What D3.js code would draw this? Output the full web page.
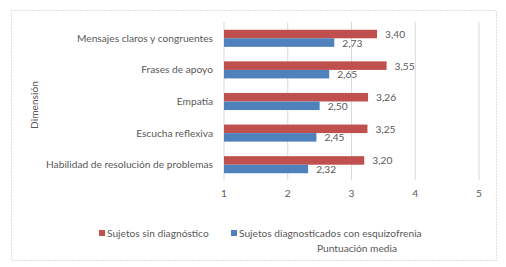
<!DOCTYPE html>
<html>
<head>
<meta charset="utf-8">
<script src="https://cdn.jsdelivr.net/npm/d3@7"></script>
<style>
  body { margin: 0; background: #fff; }
  text { font-family: Lato, "Liberation Sans", sans-serif; fill: #595959; }
</style>
</head>
<body>
<div id="chart"></div>
<script>
// Data
var dimensions = ["Mensajes claros y congruentes", "Frases de apoyo", "Empatía", "Escucha reflexiva", "Habilidad de resolución de problemas"];
var sinDiagnostico = [3.40, 3.55, 3.26, 3.25, 3.20];
var conEsquizofrenia = [2.73, 2.65, 2.50, 2.45, 2.32];
var seriesNames = ["Sujetos sin diagnóstico", "Sujetos diagnosticados con esquizofrenia"];
var xTicks = [1, 2, 3, 4, 5];

var width = 506, height = 267;
var colors = ["#c0504d", "#4f81bd"];
var fs = "10.2px";

var svg = d3.select("#chart").append("svg")
    .attr("width", width)
    .attr("height", height);

// outer dotted frame
svg.append("rect")
    .attr("x", 11.5).attr("y", 10.5)
    .attr("width", 485).attr("height", 250)
    .attr("fill", "none")
    .attr("stroke", "#bfbfbf")
    .attr("stroke-dasharray", "1,2");

var x = d3.scaleLinear().domain([1, 5]).range([224, 479]);
var y = d3.scaleBand().domain(dimensions).range([22.5, 180.5]).paddingInner(0.46).paddingOuter(0.23);
var sub = d3.scaleBand().domain([0, 1]).range([0, y.bandwidth()]);

// gridlines
svg.append("g").selectAll("line")
    .data(xTicks)
    .enter().append("line")
    .attr("x1", d => x(d)).attr("x2", d => x(d))
    .attr("y1", 22).attr("y2", 180)
    .attr("stroke", "#d9d9d9");

// tick labels
svg.append("g").selectAll("text")
    .data(xTicks)
    .enter().append("text")
    .attr("x", d => x(d))
    .attr("y", 197)
    .attr("text-anchor", "middle")
    .style("font-size", fs)
    .text(d => d);

// category labels
svg.append("g").selectAll("text")
    .data(dimensions)
    .enter().append("text")
    .attr("x", 213)
    .attr("y", d => y(d) + y.bandwidth() / 2 + 3.5)
    .attr("text-anchor", "end")
    .style("font-size", fs)
    .text(d => d);

var rows = dimensions.map((d, i) => ({ dim: d, vals: [sinDiagnostico[i], conEsquizofrenia[i]] }));

var groups = svg.append("g").selectAll("g")
    .data(rows)
    .enter().append("g")
    .attr("transform", d => "translate(0," + y(d.dim) + ")");

groups.selectAll("rect")
    .data(d => d.vals)
    .enter().append("rect")
    .attr("x", x(1))
    .attr("y", (d, i) => sub(i))
    .attr("width", d => x(d) - x(1))
    .attr("height", sub.bandwidth())
    .attr("fill", (d, i) => colors[i]);

groups.selectAll("text")
    .data(d => d.vals)
    .enter().append("text")
    .attr("x", d => x(d) + 8)
    .attr("y", (d, i) => sub(i) + sub.bandwidth() / 2 + 4)
    .style("font-size", fs)
    .text(d => d3.format(".2f")(d).replace(".", ","));

// axis titles
svg.append("text")
    .attr("transform", "translate(38,105) rotate(-90)")
    .attr("text-anchor", "middle")
    .style("font-size", fs)
    .text("Dimensión");

svg.append("text")
    .attr("x", 357).attr("y", 252)
    .attr("text-anchor", "middle")
    .style("font-size", fs)
    .text("Puntuación media");

// legend
var legendX = [99, 231];
var legend = svg.append("g").selectAll("g")
    .data(seriesNames)
    .enter().append("g")
    .attr("transform", (d, i) => "translate(" + legendX[i] + ",233)");

legend.append("rect")
    .attr("x", 0).attr("y", -3)
    .attr("width", 6).attr("height", 6)
    .attr("fill", (d, i) => colors[i]);

legend.append("text")
    .attr("x", 8).attr("y", 3.5)
    .style("font-size", fs)
    .text(d => d);
</script>
</body>
</html>
